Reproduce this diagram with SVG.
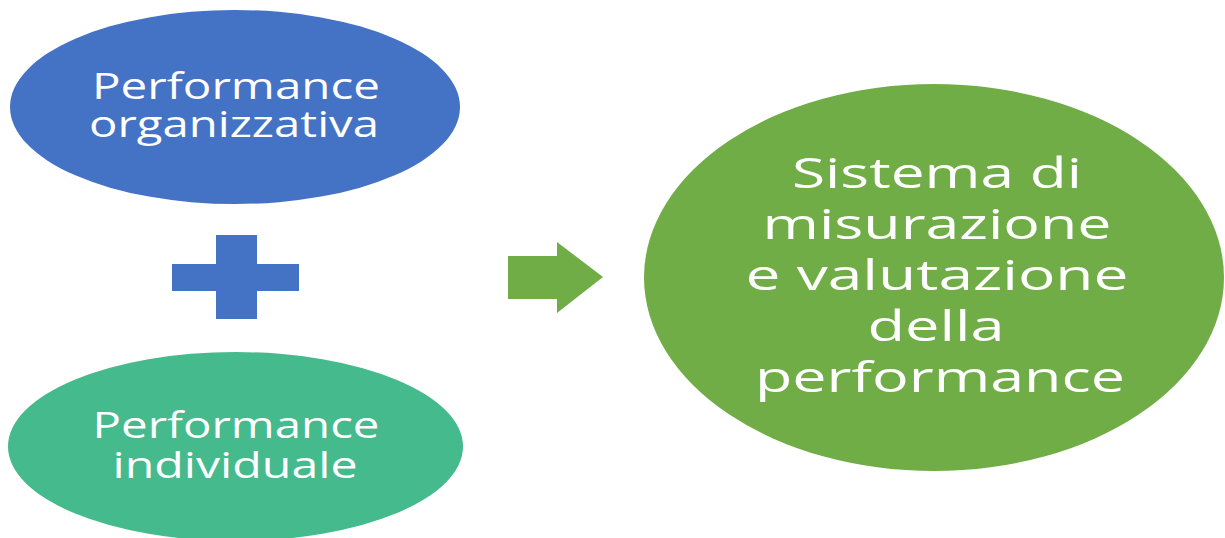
<svg xmlns="http://www.w3.org/2000/svg" width="1225" height="538" viewBox="0 0 1225 538">
<style>
.lbl{font-family:"Open Sans","Noto Sans","DejaVu Sans",sans-serif;fill:#ffffff;text-anchor:middle}
.s{font-size:36px}
.b{font-size:42px}
</style>
<rect width="1225" height="538" fill="#ffffff"/>
<g id="node-organizzativa">
<ellipse cx="235" cy="107" rx="225" ry="97" fill="#4472C4"/>
<text class="lbl s" x="236" y="99" textLength="288" lengthAdjust="spacingAndGlyphs">Performance</text>
<text class="lbl s" x="234" y="137" textLength="290" lengthAdjust="spacingAndGlyphs">organizzativa</text>
</g>
<g id="plus">
<polygon points="216,235 257,235 257,264 299,264 299,291 257,291 257,319 216,319 216,291 172,291 172,264 216,264" fill="#4472C4"/>
</g>
<g id="node-individuale">
<ellipse cx="235.5" cy="446.5" rx="227.5" ry="94.5" fill="#45BA8D"/>
<text class="lbl s" x="236" y="438" textLength="287" lengthAdjust="spacingAndGlyphs">Performance</text>
<text class="lbl s" x="235" y="478" textLength="245" lengthAdjust="spacingAndGlyphs">individuale</text>
</g>
<g id="connectors">
<polygon points="508,256 557,256 557,242 603,277 557,313 557,299 508,299" fill="#70AD47"/>
</g>
<g id="node-sistema">
<ellipse cx="934" cy="277.5" rx="290" ry="193.5" fill="#70AD47"/>
<text class="lbl b" x="937" y="188" textLength="290" lengthAdjust="spacingAndGlyphs">Sistema di</text>
<text class="lbl b" x="937" y="239" textLength="349" lengthAdjust="spacingAndGlyphs">misurazione</text>
<text class="lbl b" x="937" y="290" textLength="383" lengthAdjust="spacingAndGlyphs">e valutazione</text>
<text class="lbl b" x="936" y="341" textLength="137" lengthAdjust="spacingAndGlyphs">della</text>
<text class="lbl b" x="940" y="392" textLength="370" lengthAdjust="spacingAndGlyphs">performance</text>
</g>
</svg>
